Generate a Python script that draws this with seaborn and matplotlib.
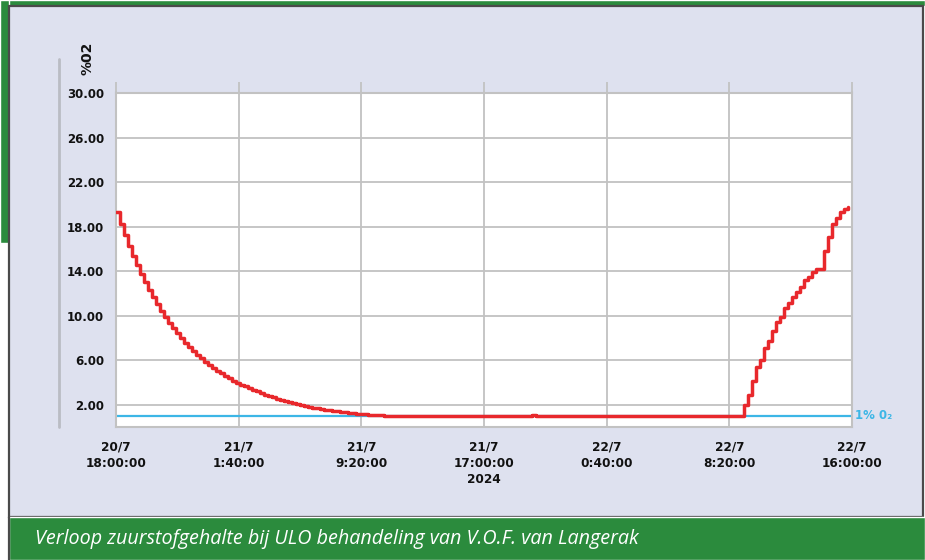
import pandas as pd
import matplotlib.pyplot as plt
import seaborn as sns
from matplotlib.patches import Rectangle
from matplotlib.lines import Line2D

# O2 readings, one every 15 minutes from 20/7 18:00
start = '2024-07-20 18:00'
step = '15min'

o2_fall = [19.30, 18.23, 17.22, 16.28, 15.38, 14.54, 13.75, 13.01, 12.31, 11.64,
           11.02, 10.44, 9.88, 9.36, 8.87, 8.41, 7.98, 7.57, 7.18, 6.82,
           6.48, 6.16, 5.85, 5.57, 5.30, 5.04, 4.81, 4.58, 4.37, 4.17,
           3.98, 3.81, 3.64, 3.48, 3.34, 3.20, 3.05, 2.91, 2.78, 2.66,
           2.54, 2.43, 2.33, 2.23, 2.14, 2.05, 1.97, 1.89, 1.82, 1.75,
           1.68, 1.62, 1.56, 1.50, 1.45, 1.40, 1.35, 1.31, 1.27, 1.23,
           1.19, 1.16, 1.13, 1.10, 1.08, 1.06, 1.04, 1.02, 1.01, 1.00,
           0.99, 0.98, 0.97]
o2_ulo = [0.96, 0.96, 0.97, 0.96, 0.95, 0.95, 0.96, 0.95, 0.95, 0.96, 0.95, 0.95,
          1.03, 1.02, 1.01, 0.98, 0.96, 0.95, 0.95, 0.96, 0.95, 0.95, 0.95, 0.96,
          0.95, 0.95, 0.95, 0.95, 0.95, 0.95, 0.95, 1.04, 1.03, 1.02, 1.00, 0.99,
          0.98, 0.97, 0.97, 0.96, 0.96, 0.95, 0.95, 0.95, 0.96, 0.95, 0.95, 0.95,
          0.95, 0.95, 0.96, 0.95, 0.95, 0.95, 0.95, 1.03, 1.02, 1.01, 0.99, 0.98,
          0.97, 0.97, 0.96, 0.96, 0.95, 0.96, 0.95, 0.95, 0.95, 0.95, 1.03, 1.01,
          0.99, 0.98, 0.97, 0.96, 0.96, 0.95, 0.95, 0.95, 0.96, 0.95, 0.95, 0.95]
o2_rise = [2.0, 2.9, 4.15, 5.35, 6.0, 7.1, 7.75, 8.6, 9.4, 9.9,
           10.7, 11.1, 11.7, 12.1, 12.6, 13.2, 13.5, 13.9, 14.2, 14.2,
           15.8, 17.1, 18.2, 18.8, 19.3, 19.6, 19.75]

o2_limit = 1.0
y_ticks = [2, 6, 10, 14, 18, 22, 26, 30]
tick_labels = ['20/7\n18:00:00', '21/7\n1:40:00', '21/7\n9:20:00', '21/7\n17:00:00\n2024',
               '22/7\n0:40:00', '22/7\n8:20:00', '22/7\n16:00:00']
caption = 'Verloop zuurstofgehalte bij ULO behandeling van V.O.F. van Langerak'

o2 = o2_fall + o2_ulo + o2_rise
df = pd.DataFrame({'tijd': pd.date_range(start, periods=len(o2), freq=step), 'o2': o2})
tick_times = pd.date_range(start, periods=len(tick_labels), freq='460min')

red = '#e8282c'
blue = '#3cb6e6'
gridc = '#c2c2c2'
green = '#2b8b3d'
panel = '#dee1ef'

sns.set_theme(style='whitegrid')
plt.rcParams['font.family'] = ['DejaVu Sans']

W, H = 925, 560
fig = plt.figure(figsize=(W / 100, H / 100), dpi=100)
fig.patch.set_facecolor('white')

# background: green strips, lavender panel, caption band
fig.patches.extend([
    Rectangle((0, 1 - 6 / H), 1, 6 / H, transform=fig.transFigure, facecolor=green, zorder=-3),
    Rectangle((0, 1 - 243 / H), 9 / W, 243 / H, transform=fig.transFigure, facecolor=green, zorder=-3),
    Rectangle((9 / W, 1 - 517 / H), 914 / W, 511 / H, transform=fig.transFigure,
              facecolor=panel, edgecolor='#4a4a4a', lw=1.6, zorder=-2),
    Rectangle((9 / W, 0), 916 / W, 43 / H, transform=fig.transFigure, facecolor=green, zorder=-1),
])
fig.add_artist(Line2D([9 / W, 9 / W], [0, 43 / H], transform=fig.transFigure, color='#4a4a4a', lw=1.6))
fig.add_artist(Line2D([59 / W, 59 / W], [1 - 59 / H, 1 - 427 / H], transform=fig.transFigure,
                      color='#babcc4', lw=2))

ax = fig.add_axes([116 / W, 1 - 427 / H, 736 / W, 334 / H])
ax.set_facecolor('white')

sns.lineplot(data=df, x='tijd', y='o2', ax=ax, color=red, lw=2.5, drawstyle='steps-post', zorder=3)
ax.axhline(o2_limit, color=blue, lw=1.6, zorder=2)
ax.text(1.004, o2_limit, '1% 0₂', transform=ax.get_yaxis_transform(), color=blue,
        fontsize=8.5, fontweight='bold', va='center', ha='left')

ax.set_xlim(tick_times[0], tick_times[-1])
ax.set_ylim(0, 30)
ax.set_yticks(y_ticks)
ax.set_yticklabels([f'{v:.2f}' for v in y_ticks], fontsize=8.5, fontweight='bold')
ax.set_xticks(tick_times)
ax.set_xticklabels(tick_labels, fontsize=8.7, fontweight='bold', linespacing=1.3)
ax.set_xlabel('')
ax.set_ylabel('')

ax.grid(True, color=gridc, lw=1.3)
ax.tick_params(axis='x', bottom=False, top=True, direction='out', length=8, width=1.3,
               color=gridc, pad=2, labelcolor='#111111')
ax.tick_params(axis='y', length=0, pad=8.5, labelcolor='#111111')
for s in ax.spines.values():
    s.set_color(gridc)
    s.set_linewidth(1.5)

fig.text(87 / W, 1 - 58 / H, '%02', rotation=90, fontsize=10, fontweight='bold',
         ha='center', va='center', color='#111111')
fig.text(35 / W, 1 - 539 / H, caption, color='white', fontsize=14.2, style='italic',
         family=['Open Sans', 'DejaVu Sans'], ha='left', va='center')

fig.savefig('out.png', dpi=100)
